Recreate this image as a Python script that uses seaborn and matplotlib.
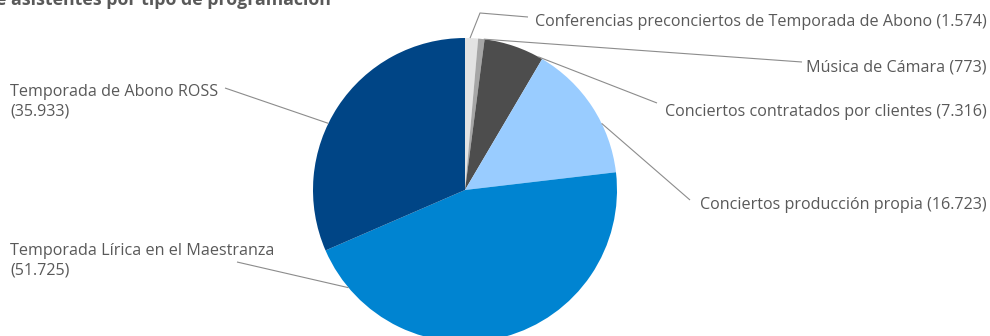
"""
plot.py – Asistentes por tipo de programación (pie chart with leader labels).
"""

import numpy as np
import matplotlib
matplotlib.use("Agg")
import matplotlib.pyplot as plt
import seaborn as sns

# ── Data ──────────────────────────────────────────────────────────────────────
CATEGORIES = ["Conferencias preconciertos de Temporada de Abono",
              "Música de Cámara",
              "Conciertos contratados por clientes",
              "Conciertos producción propia",
              "Temporada Lírica en el Maestranza",
              "Temporada de Abono ROSS"]
ASISTENTES = [1574, 773, 7316, 16723, 51725, 35933]
VALUE_LABELS = ["1.574", "773", "7.316", "16.723", "51.725", "35.933"]
TITLE = "e asistentes por tipo de programación"

# ── Palette / layout ──────────────────────────────────────────────────────────
COLORS = ["#E3E3E3", "#A6A6A6", "#4D4D4D", "#99CCFF", "#0084D1", "#004586"]
TEXT = "#595959"
LINE = "#8C8C8C"
W, H = 990, 336
CENTER = (465, 190)      # pixel coords (y from top)
RADIUS = 152

# label layout: (anchor angle on pie, leader path end, text pos, ha, two-line)
LABEL_LAYOUT = [
    (1.9,   [(480, 13), (528, 17)], (987, 22),  "right", False),
    (7.1,   [(802, 62)],             (987, 67),  "right", False),
    (28.8,  [(657, 103)],            (987, 112), "right", False),
    (64.0,  [(690, 200)],            (987, 205), "right", False),
    (230.0, [(237, 262)],            (10, 261),  "left",  True),
    (296.0, [(225, 88)],             (10, 102),  "left",  True),
]

sns.set_theme(style="white")
plt.rcParams["font.family"] = ["Open Sans", "DejaVu Sans"]


def px(x, y):
    """pixel (y from top) -> data coords (y up)"""
    return x, H - y


fig = plt.figure(figsize=(W / 100, H / 100), dpi=100)
ax = fig.add_axes([0, 0, 1, 1])

ax.pie(ASISTENTES, colors=COLORS, startangle=90, counterclock=False,
       center=px(*CENTER), radius=RADIUS,
       wedgeprops={"linewidth": 0})
ax.set_xlim(0, W)
ax.set_ylim(0, H)
ax.set_aspect("equal")
ax.axis("off")

# ── Labels with leader lines ──────────────────────────────────────────────────
for cat, val, (ang, path, tpos, ha, two) in zip(CATEGORIES, VALUE_LABELS, LABEL_LAYOUT):
    a = np.deg2rad(ang)
    start = (CENTER[0] + RADIUS * np.sin(a), CENTER[1] - RADIUS * np.cos(a))
    pts = [start] + path
    xs, ys = zip(*[px(x, y) for x, y in pts])
    ax.plot(xs, ys, color=LINE, linewidth=0.8, solid_capstyle="butt")
    label = f"{cat}\n({val})" if two else f"{cat} ({val})"
    ax.text(*px(*tpos), label, ha=ha, va="center", fontsize=11.6,
            color=TEXT, linespacing=1.3)

# title (cut off at the top of the image in the original)
ax.text(*px(-4, 5), TITLE, ha="left", va="baseline", fontsize=12.8,
        fontweight="bold", color=TEXT)

fig.savefig("out.png", dpi=100)
plt.close()
